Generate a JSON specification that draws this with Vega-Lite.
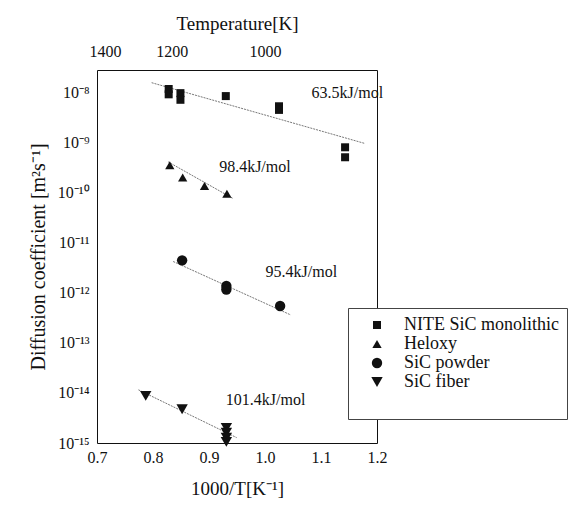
{
  "$schema": "https://vega.github.io/schema/vega-lite/v6.json",
  "width": 280,
  "height": 373,
  "autosize": "none",
  "padding": {"left": 97, "top": 70, "right": 194, "bottom": 64},
  "background": "white",
  "config": {
    "view": {"stroke": null},
    "font": "Liberation Serif",
    "axis": {"domainColor": "#111", "tickColor": "#111", "labelColor": "#111", "titleColor": "#111", "labelFont": "Liberation Serif", "titleFont": "Liberation Serif", "titleFontWeight": "normal", "labelFontSize": 16, "titleFontSize": 19, "grid": false},
    "legend": {"labelFont": "Liberation Serif", "titleFont": "Liberation Serif"}
  },
  "datasets": {
    "points": [
      {"series": "NITE SiC monolithic", "x": 0.828, "y": 1.15e-8},
      {"series": "NITE SiC monolithic", "x": 0.828, "y": 0.9e-8},
      {"series": "NITE SiC monolithic", "x": 0.849, "y": 9.5e-9},
      {"series": "NITE SiC monolithic", "x": 0.849, "y": 7.0e-9},
      {"series": "NITE SiC monolithic", "x": 0.930, "y": 8.3e-9},
      {"series": "NITE SiC monolithic", "x": 1.025, "y": 5.2e-9},
      {"series": "NITE SiC monolithic", "x": 1.025, "y": 4.4e-9},
      {"series": "NITE SiC monolithic", "x": 1.143, "y": 7.9e-10},
      {"series": "NITE SiC monolithic", "x": 1.143, "y": 5.0e-10},
      {"series": "Heloxy", "x": 0.830, "y": 3.47e-10},
      {"series": "Heloxy", "x": 0.853, "y": 1.97e-10},
      {"series": "Heloxy", "x": 0.892, "y": 1.34e-10},
      {"series": "Heloxy", "x": 0.932, "y": 9.4e-11},
      {"series": "SiC powder", "x": 0.852, "y": 4.4e-12},
      {"series": "SiC powder", "x": 0.931, "y": 1.35e-12},
      {"series": "SiC powder", "x": 0.931, "y": 1.15e-12},
      {"series": "SiC powder", "x": 1.027, "y": 5.4e-13},
      {"series": "SiC fiber", "x": 0.787, "y": 8.7e-15},
      {"series": "SiC fiber", "x": 0.852, "y": 4.7e-15},
      {"series": "SiC fiber", "x": 0.931, "y": 2.0e-15},
      {"series": "SiC fiber", "x": 0.931, "y": 1.6e-15},
      {"series": "SiC fiber", "x": 0.931, "y": 1.28e-15},
      {"series": "SiC fiber", "x": 0.931, "y": 1.05e-15}
    ],
    "lines": [
      {"series": "NITE SiC monolithic", "x": 0.7976, "y": 1.535e-8},
      {"series": "NITE SiC monolithic", "x": 1.1786, "y": 9.4e-10},
      {"series": "Heloxy", "x": 0.827, "y": 4.05e-10},
      {"series": "Heloxy", "x": 0.9435, "y": 7.46e-11},
      {"series": "SiC powder", "x": 0.836, "y": 4.17e-12},
      {"series": "SiC powder", "x": 1.046, "y": 3.58e-13},
      {"series": "SiC fiber", "x": 0.774, "y": 1.15e-14},
      {"series": "SiC fiber", "x": 0.9494, "y": 1.28e-15}
    ],
    "labels": [
      {"text": "63.5kJ/mol", "x": 1.147, "y": 9.7e-9},
      {"text": "98.4kJ/mol", "x": 0.982, "y": 3.16e-10},
      {"text": "95.4kJ/mol", "x": 1.065, "y": 2.57e-12},
      {"text": "101.4kJ/mol", "x": 1.001, "y": 7.15e-15}
    ]
  },
  "resolve": {"axis": {"x": "independent", "y": "independent"}},
  "layer": [
    {
      "data": {"name": "lines"},
      "mark": {"type": "line", "color": "#777", "strokeWidth": 1, "strokeDash": [2, 1]},
      "encoding": {
        "x": {"field": "x", "type": "quantitative", "scale": {"domain": [0.7, 1.2], "nice": false, "zero": false},
          "axis": {"orient": "bottom", "title": "1000/T[K⁻¹]", "values": [0.7, 0.8, 0.9, 1.0, 1.1, 1.2], "format": ".1f", "ticks": false, "labelPadding": 6, "titlePadding": 14, "labelFlush": false}},
        "y": {"field": "y", "type": "quantitative", "scale": {"type": "log", "domain": [1e-15, 2.75e-8], "nice": false},
          "axis": {"orient": "left", "title": "Diffusion coefficient [m²s⁻¹]", "titleFontSize": 20, "values": [1e-15, 1e-14, 1e-13, 1e-12, 1e-11, 1e-10, 1e-9, 1e-8], "ticks": false, "labelPadding": 8, "titlePadding": 9, "labelFlush": false,
            "labelExpr": "datum.value < 5e-15 ? '10⁻¹⁵' : datum.value < 5e-14 ? '10⁻¹⁴' : datum.value < 5e-13 ? '10⁻¹³' : datum.value < 5e-12 ? '10⁻¹²' : datum.value < 5e-11 ? '10⁻¹¹' : datum.value < 5e-10 ? '10⁻¹⁰' : datum.value < 5e-9 ? '10⁻⁹' : '10⁻⁸'"}},
        "detail": {"field": "series"}
      }
    },
    {
      "data": {"name": "points"},
      "mark": {"type": "point", "filled": true, "opacity": 1},
      "encoding": {
        "x": {"field": "x", "type": "quantitative", "scale": {"domain": [0.7, 1.2], "nice": false, "zero": false},
          "axis": {"orient": "top", "title": "Temperature[K]", "values": [0.7142857, 0.8333333, 1.0], "labelExpr": "format(1000/datum.value, '.0f')", "ticks": false, "labelPadding": 11, "titlePadding": 10, "labelFlush": false}},
        "y": {"field": "y", "type": "quantitative", "scale": {"type": "log", "domain": [1e-15, 2.75e-8], "nice": false},
          "axis": {"orient": "right", "title": null, "labels": false, "ticks": false}},
        "shape": {"field": "series", "type": "nominal",
          "scale": {"domain": ["NITE SiC monolithic", "Heloxy", "SiC powder", "SiC fiber"], "range": ["square", "triangle-up", "circle", "triangle-down"]},
          "legend": {"title": " ", "titleOrient": "bottom", "titleFontSize": 20, "titlePadding": 0, "orient": "none", "legendX": 251, "legendY": 238, "padding": 8, "strokeColor": "#444", "fillColor": "white", "labelFontSize": 18, "labelColor": "#111", "symbolOffset": 12, "labelOffset": 18, "rowPadding": 1, "symbolFillColor": "#111", "symbolStrokeColor": "#111"}},
        "size": {"field": "series", "type": "nominal",
          "scale": {"domain": ["NITE SiC monolithic", "Heloxy", "SiC powder", "SiC fiber"], "range": [64, 130, 45, 150]}},
        "color": {"value": "#111"}
      }
    },
    {
      "data": {"name": "labels"},
      "mark": {"type": "text", "fontSize": 16, "font": "Liberation Serif", "color": "#111", "align": "center", "baseline": "middle"},
      "encoding": {
        "x": {"field": "x", "type": "quantitative", "scale": {"domain": [0.7, 1.2], "nice": false, "zero": false}, "axis": null},
        "y": {"field": "y", "type": "quantitative", "scale": {"type": "log", "domain": [1e-15, 2.75e-8], "nice": false}, "axis": null},
        "text": {"field": "text"}
      }
    }
  ]
}
